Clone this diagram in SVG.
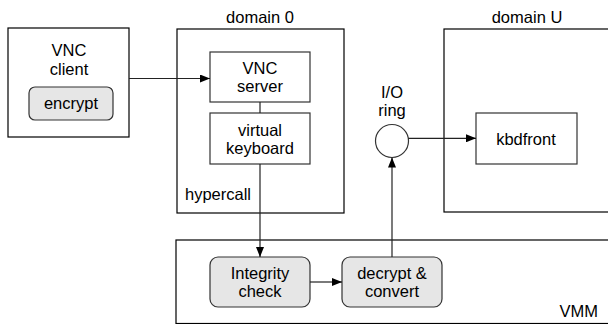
<svg xmlns="http://www.w3.org/2000/svg" width="608" height="324" viewBox="0 0 608 324">
<style>
text{font-family:"Liberation Sans",Arial,sans-serif;font-size:16.5px;fill:#000}
.c{text-anchor:middle}
.outer{fill:#fff;stroke:#000;stroke-width:1.2}
.box{fill:#fff;stroke:#333;stroke-width:1.2}
.rbox{fill:#e6e6e6;stroke:#333;stroke-width:1.2}
.conn{fill:none;stroke:#222;stroke-width:1.2}
</style>
<defs>
<marker id="ah" viewBox="0 0 10 8" refX="10" refY="4" markerWidth="10" markerHeight="8" markerUnits="userSpaceOnUse" orient="auto">
<path d="M0,0 L10,4 L0,8 Z" fill="#000"/>
</marker>
</defs>
<rect width="608" height="324" fill="#fff"/>
<g id="vnc-client">
<rect class="outer" x="8" y="28" width="121" height="109"/>
<text class="c" x="69" y="56">VNC</text>
<text class="c" x="69" y="75">client</text>
</g>
<g id="encrypt">
<rect class="rbox" x="29" y="87" width="84" height="33" rx="6"/>
<text class="c" x="71" y="109">encrypt</text>
</g>
<g id="domain0">
<rect class="outer" x="177" y="29" width="167" height="184"/>
<text class="c" x="260" y="23">domain 0</text>
<text x="185" y="200">hypercall</text>
</g>
<g id="domainU">
<rect class="outer" x="444" y="29" width="180" height="183"/>
<text class="c" x="527" y="23">domain U</text>
</g>
<g id="vmm">
<rect class="outer" x="176" y="240" width="450" height="83.5"/>
<text x="598" y="317" text-anchor="end">VMM</text>
</g>
<g id="vnc-server">
<rect class="box" x="210" y="52" width="100" height="50"/>
<text class="c" x="260" y="74">VNC</text>
<text class="c" x="260" y="92">server</text>
</g>
<g id="virtual-keyboard">
<rect class="box" x="210" y="113" width="100" height="51"/>
<text class="c" x="260" y="136">virtual</text>
<text class="c" x="260" y="154">keyboard</text>
</g>
<g id="io-ring">
<circle cx="392" cy="141" r="16.5" fill="#fff" stroke="#333" stroke-width="1.2"/>
<text class="c" x="392" y="98">I/O</text>
<text class="c" x="392" y="116">ring</text>
</g>
<g id="kbdfront">
<rect class="box" x="476" y="113" width="101" height="51"/>
<text class="c" x="526" y="145">kbdfront</text>
</g>
<g id="integrity-check">
<rect class="rbox" x="210" y="257" width="100" height="50" rx="8"/>
<text class="c" x="260" y="279">Integrity</text>
<text class="c" x="260" y="297">check</text>
</g>
<g id="decrypt-convert">
<rect class="rbox" x="342" y="257" width="100" height="50" rx="8"/>
<text class="c" x="392" y="279">decrypt &amp;</text>
<text class="c" x="392" y="297">convert</text>
</g>
<g id="connectors">
<line class="conn" x1="129" y1="78.5" x2="210" y2="78.5" marker-end="url(#ah)"/>
<line class="conn" x1="260" y1="102" x2="260" y2="113"/>
<line class="conn" x1="260" y1="164" x2="260" y2="257" marker-end="url(#ah)"/>
<line class="conn" x1="310" y1="282" x2="342" y2="282" marker-end="url(#ah)"/>
<line class="conn" x1="392" y1="257" x2="392" y2="157.5" marker-end="url(#ah)"/>
<line class="conn" x1="408.3" y1="138.3" x2="476" y2="138.3" marker-end="url(#ah)"/>
</g>
</svg>
